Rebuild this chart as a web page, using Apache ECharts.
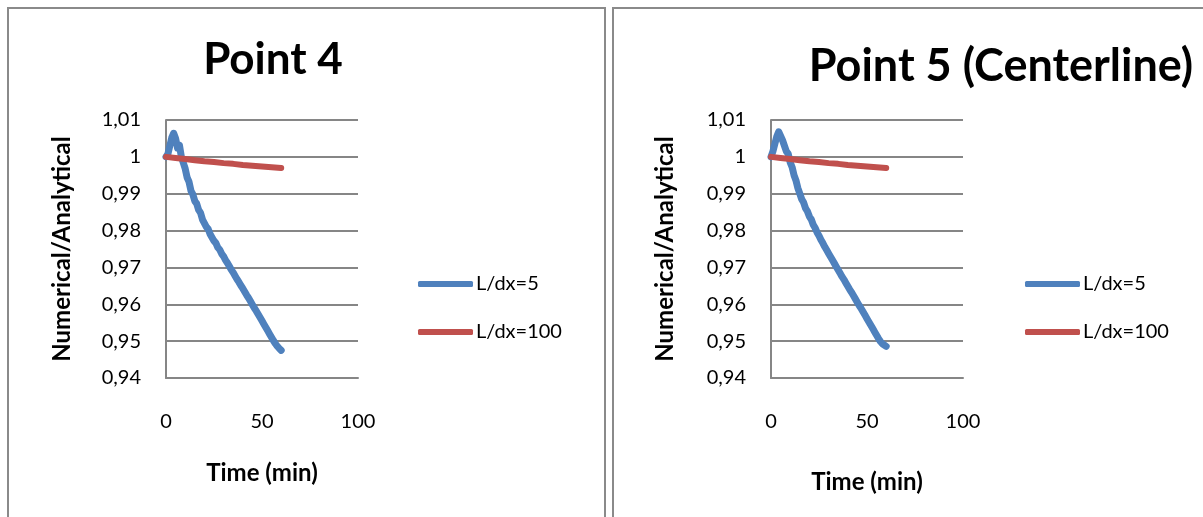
<!DOCTYPE html>
<html>
<head>
<meta charset="utf-8">
<script src="https://cdn.jsdelivr.net/npm/echarts@6/dist/echarts.min.js"></script>
<style>
  html, body { margin: 0; padding: 0; background: #ffffff; }
  #chart { width: 1203px; height: 517px; }
</style>
</head>
<body>
<div id="chart"></div>
<script>
// Time axis (minutes) shared by the coarse-grid series
const timeCoarse = [
  0, 1, 2, 3, 4, 5, 6, 7, 8, 9, 10, 11, 12, 13, 14, 15, 16, 17, 18, 19, 20,
  21, 22, 23, 24, 25, 26, 27, 28, 29, 30, 31, 32, 33, 34, 35, 36, 37, 38, 39, 40,
  41, 42, 43, 44, 45, 46, 47, 48, 49, 50, 51, 52, 53, 54, 55, 56, 57, 58, 59, 60
];
// Time axis (minutes) for the fine-grid series
const timeFine = [0, 5, 10, 15, 20, 25, 30, 35, 40, 45, 50, 55, 60];

// Point 4, L/dx=5
const p4Coarse = [
  1.0000, 1.0008, 1.0030, 1.0052, 1.0064, 1.0050, 1.0024, 1.0032, 1.0000, 0.9984,
  0.9968, 0.9944, 0.9932, 0.9908, 0.9898, 0.9880, 0.9873, 0.9856, 0.9848, 0.9830,
  0.9826, 0.9810, 0.9804, 0.9790, 0.9785, 0.9772, 0.9766, 0.9754, 0.9748, 0.9737,
  0.9730, 0.9720, 0.9712, 0.9703, 0.9694, 0.9686, 0.9677, 0.9668, 0.9660, 0.9651,
  0.9643, 0.9634, 0.9625, 0.9617, 0.9608, 0.9599, 0.9590, 0.9582, 0.9573, 0.9564,
  0.9555, 0.9546, 0.9537, 0.9528, 0.9519, 0.9510, 0.9501, 0.9493, 0.9486, 0.9480,
  0.9475
];
// Point 4, L/dx=100
const p4Fine = [1.0000, 0.9997, 0.9994, 0.9991, 0.9988, 0.9986, 0.9983, 0.9981, 0.9978, 0.9976, 0.9974, 0.9972, 0.9970];

// Point 5 (centerline), L/dx=5
const p5Coarse = [
  1.0000, 1.0015, 1.0035, 1.0055, 1.0068, 1.0066, 1.0045, 1.0040, 1.0015, 1.0008,
  0.9985, 0.9972, 0.9950, 0.9936, 0.9915, 0.9900, 0.9885, 0.9876, 0.9860, 0.9852,
  0.9838, 0.9830, 0.9816, 0.9807, 0.9795, 0.9786, 0.9775, 0.9766, 0.9756, 0.9747,
  0.9738, 0.9729, 0.9720, 0.9711, 0.9702, 0.9693, 0.9684, 0.9675, 0.9667, 0.9658,
  0.9649, 0.9640, 0.9632, 0.9623, 0.9614, 0.9605, 0.9596, 0.9588, 0.9579, 0.9570,
  0.9561, 0.9552, 0.9543, 0.9534, 0.9525, 0.9516, 0.9507, 0.9499, 0.9493, 0.9489,
  0.9486
];
// Point 5 (centerline), L/dx=100
const p5Fine = [1.0000, 0.9997, 0.9994, 0.9991, 0.9988, 0.9986, 0.9983, 0.9981, 0.9978, 0.9976, 0.9974, 0.9972, 0.9970];

const seriesNames = ['L/dx=5', 'L/dx=100'];
const panelTitles = ['Point 4', 'Point 5 (Centerline)'];
const xAxisTitle = 'Time (min)';
const yAxisTitle = 'Numerical/Analytical';

const BLUE = '#4F81BD';
const RED = '#C0504D';
const GRID_GREY = '#868686';
const FONT = 'Lato';

function pairs(xs, ys) { return xs.map((x, i) => [x, ys[i]]); }

// decimal comma, trailing zeros dropped (1,00 -> 1)
function commaLabel(v) {
  const s = (Math.round(v * 100) / 100).toString();
  return s.replace('.', ',');
}

const chart = echarts.init(document.getElementById('chart'), null, { renderer: 'canvas' });

function xAxisFor(gridIndex, nameGap) {
  return {
    gridIndex, type: 'value', min: 0, max: 100, interval: 50,
    name: xAxisTitle, nameLocation: 'middle', nameGap,
    nameTextStyle: { fontFamily: FONT, fontWeight: 'bold', fontSize: 24, color: '#000' },
    axisLine: { show: true, onZero: false, lineStyle: { color: GRID_GREY, width: 2 } },
    axisTick: { show: false },
    splitLine: { show: false },
    axisLabel: { fontFamily: FONT, fontSize: 20, color: '#000', margin: 34 }
  };
}
function yAxisFor(gridIndex, nameGap) {
  return {
    gridIndex, type: 'value', min: 0.94, max: 1.01, interval: 0.01,
    name: yAxisTitle, nameLocation: 'middle', nameGap, nameRotate: 90,
    nameTextStyle: { fontFamily: FONT, fontWeight: 'bold', fontSize: 24, color: '#000' },
    axisLine: { show: true, lineStyle: { color: GRID_GREY, width: 2 } },
    axisTick: { show: false },
    splitLine: { show: true, lineStyle: { color: GRID_GREY, width: 2 } },
    axisLabel: { fontFamily: FONT, fontSize: 20, color: '#000', margin: 25, formatter: commaLabel }
  };
}
function lineSeries(name, color, idx, data, width) {
  return {
    name, type: 'line', xAxisIndex: idx, yAxisIndex: idx, data,
    showSymbol: false, symbol: 'none', smooth: false, animation: false,
    lineStyle: { color, width, cap: 'round', join: 'round' },
    itemStyle: { color }
  };
}
function legendAt(left) {
  return {
    orient: 'vertical', left, top: 269, itemGap: 28,
    itemWidth: 55, itemHeight: 6, icon: 'roundRect',
    data: seriesNames,
    textStyle: { fontFamily: FONT, fontSize: 20, color: '#000', padding: [0, 0, 0, -2] },
    selectedMode: false
  };
}

chart.setOption({
  backgroundColor: '#ffffff',
  animation: false,
  title: [
    { text: panelTitles[0], left: 268, top: 55, textAlign: 'center', textVerticalAlign: 'middle',
      textStyle: { fontFamily: FONT, fontWeight: 'bold', fontSize: 44, color: '#000' } },
    { text: panelTitles[1], left: 996, top: 61, textAlign: 'center', textVerticalAlign: 'middle',
      textStyle: { fontFamily: FONT, fontWeight: 'bold', fontSize: 45, color: '#000' } }
  ],
  grid: [
    { left: 166, top: 120, width: 192, height: 258, containLabel: false },
    { left: 771, top: 120, width: 192, height: 258, containLabel: false }
  ],
  xAxis: [xAxisFor(0, 83), xAxisFor(1, 92)],
  yAxis: [yAxisFor(0, 92), yAxisFor(1, 94)],
  legend: [legendAt(413), legendAt(1020)],
  series: [
    lineSeries(seriesNames[0], BLUE, 0, pairs(timeCoarse, p4Coarse), 7),
    lineSeries(seriesNames[1], RED, 0, pairs(timeFine, p4Fine), 6),
    lineSeries(seriesNames[0], BLUE, 1, pairs(timeCoarse, p5Coarse), 7),
    lineSeries(seriesNames[1], RED, 1, pairs(timeFine, p5Fine), 6)
  ],
  graphic: [
    { type: 'rect', shape: { x: 8, y: 8, width: 597, height: 540 },
      style: { fill: 'none', stroke: '#8a8a8a', lineWidth: 2 }, silent: true },
    { type: 'rect', shape: { x: 613, y: 8, width: 620, height: 540 },
      style: { fill: 'none', stroke: '#8a8a8a', lineWidth: 2 }, silent: true }
  ]
});
</script>
</body>
</html>
